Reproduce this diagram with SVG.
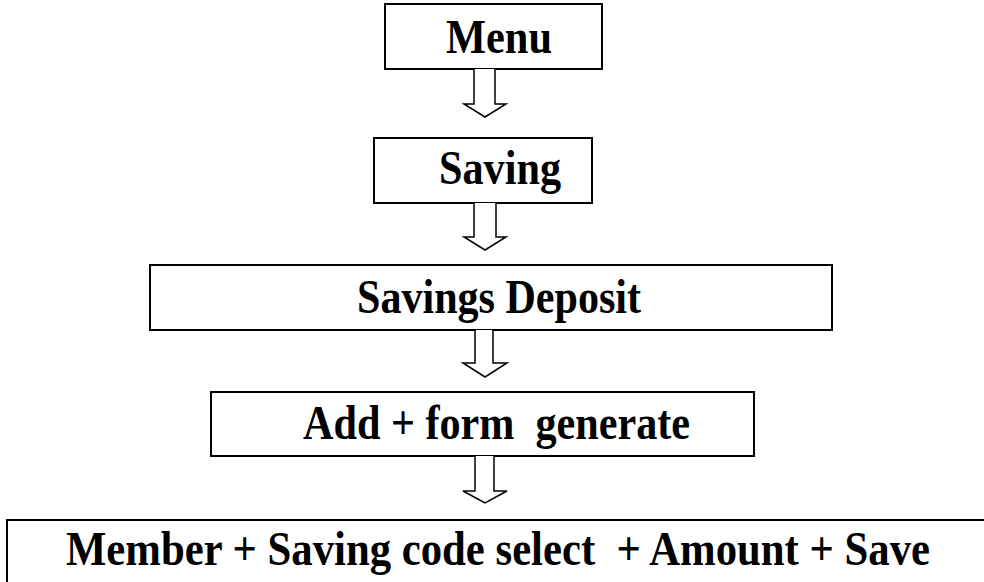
<svg xmlns="http://www.w3.org/2000/svg" width="984" height="582" viewBox="0 0 984 582">
  <style>
    .box { fill: #ffffff; stroke: #000000; stroke-width: 2; }
    .lbl { font-family: "Liberation Serif", "Times New Roman", Tinos, serif; font-weight: bold; font-size: 49px; fill: #000000; }
    .arrow { fill: #ffffff; stroke: #000000; stroke-width: 1.5; stroke-linejoin: miter; }
  </style>
  <rect width="984" height="582" fill="#ffffff"/>
  <g id="menu">
    <rect class="box" x="385" y="4" width="217" height="65"/>
    <text class="lbl" x="446" y="53" textLength="106" lengthAdjust="spacingAndGlyphs">Menu</text>
  </g>
  <g id="saving">
    <rect class="box" x="374" y="138" width="218" height="65"/>
    <text class="lbl" x="439" y="184" textLength="122" lengthAdjust="spacingAndGlyphs">Saving</text>
  </g>
  <g id="savings-deposit">
    <rect class="box" x="150" y="265" width="682" height="65"/>
    <text class="lbl" x="357" y="313" textLength="284" lengthAdjust="spacingAndGlyphs">Savings Deposit</text>
  </g>
  <g id="add-form">
    <rect class="box" x="211" y="392" width="543" height="64"/>
    <text class="lbl" x="303" y="439" textLength="387" lengthAdjust="spacingAndGlyphs" xml:space="preserve">Add + form  generate</text>
  </g>
  <g id="member-save">
    <rect class="box" x="7" y="520" width="990" height="80"/>
    <text class="lbl" x="66" y="565" textLength="864" lengthAdjust="spacingAndGlyphs" xml:space="preserve">Member + Saving code select  + Amount + Save</text>
  </g>
  <g id="connectors">
    <path class="arrow" d="M474,69 V104 H464 L485,117 L506,104 H495 V69"/>
    <path class="arrow" d="M474,203 V237 H464 L485,250 L506,237 H496 V203"/>
    <path class="arrow" d="M475,330 V363 H463 L485,377 L507,363 H493 V330"/>
    <path class="arrow" d="M475,456 V491 H463 L485,503 L507,491 H494 V456"/>
  </g>
</svg>
